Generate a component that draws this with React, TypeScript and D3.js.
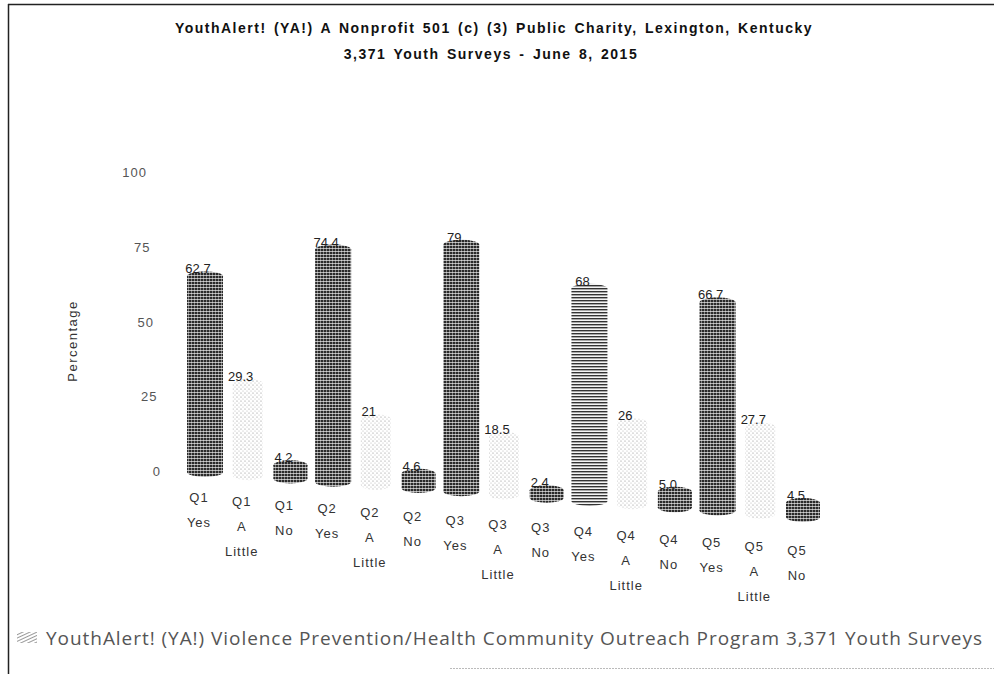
import React from "react";
import * as d3 from "d3";

// chart data
const questions = ["Q1", "Q2", "Q3", "Q4", "Q5"];
const answers = ["Yes", "A Little", "No"];
const values = [62.7, 29.3, 4.2, 74.4, 21, 4.6, 79, 18.5, 2.4, 68, 26, 5.0, 66.7, 27.7, 4.5];
const valueLabels = ["62.7", "29.3", "4.2", "74.4", "21", "4.6", "79", "18.5", "2.4", "68", "26", "5.0", "66.7", "27.7", "4.5"];
const yTicks = [0, 25, 50, 75, 100];

const title = "YouthAlert! (YA!) A Nonprofit 501 (c) (3) Public Charity, Lexington, Kentucky";
const subtitle = "3,371 Youth Surveys - June 8, 2015";
const legendLabel = "YouthAlert! (YA!) Violence Prevention/Health Community Outreach Program 3,371 Youth Surveys";

const W = 994;
const H = 674;

const bars = values.map((v, i) => ({
  q: questions[Math.floor(i / 3)],
  a: answers[i % 3],
  v,
  label: valueLabels[i],
  i,
}));

export default function App() {
  const font = "Arial, 'Liberation Sans', sans-serif";

  // x positions of the bars (a slightly tilted "3D" floor)
  const x = d3.scalePoint<number>().domain(d3.range(bars.length)).range([205, 803]);
  const base = d3.scaleLinear().domain([0, bars.length - 1]).range([472, 517]);
  const hScale = d3.scaleLinear().domain([0, 100]).range([0, 312]);
  const labelY = d3.scaleLinear().domain([0, bars.length - 1]).range([502, 555]);

  // y axis labels sit on the back wall
  const yAxis = d3.scaleLinear().domain([0, 100]).range([472, 173]);
  const yAxisX = d3.scaleLinear().domain([0, 100]).range([161, 147]);

  const widthFor = (a: string) => (a === "Yes" ? 36 : a === "A Little" ? 30 : 34);
  const fillFor = (d: { a: string; q: string }) => {
    if (d.a === "A Little") return "url(#dots)";
    if (d.a === "Yes" && d.q === "Q4") return "url(#stripes)";
    return "url(#hatch)";
  };
  const ry = 5;

  return (
    <svg width={W} height={H} style={{ position: "absolute", left: 0, top: 0, background: "#fff" }}>
      <defs>
        <pattern id="hatch" width={3} height={3} patternUnits="userSpaceOnUse">
          <rect width={3} height={3} fill="#2a2a2a" />
          <rect y={2} width={3} height={0.9} fill="#fff" opacity={0.7} />
          <rect x={2} width={0.9} height={3} fill="#fff" opacity={0.45} />
        </pattern>
        <pattern id="stripes" width={3} height={3} patternUnits="userSpaceOnUse">
          <rect width={3} height={3} fill="#f4f4f4" />
          <rect y={0} width={3} height={1.4} fill="#333" />
        </pattern>
        <pattern id="dots" width={4} height={4} patternUnits="userSpaceOnUse">
          <rect width={4} height={4} fill="#fff" />
          <circle cx={1} cy={1} r={0.6} fill="#888" />
          <circle cx={3} cy={3} r={0.5} fill="#aaa" />
        </pattern>
        <pattern id="legendSwatch" width={3} height={3} patternUnits="userSpaceOnUse" patternTransform="rotate(-25)">
          <rect width={3} height={3} fill="#fff" />
          <rect width={3} height={1} fill="#999" />
        </pattern>
      </defs>

      {/* frame */}
      <line x1={8} x2={W} y1={4.5} y2={4.5} stroke="#222" strokeWidth={1.5} />
      <line x1={8.5} x2={8.5} y1={4} y2={H} stroke="#222" strokeWidth={1.5} />
      <line x1={450} x2={W} y1={668.5} y2={668.5} stroke="#bbb" strokeWidth={1} strokeDasharray="2 1" />

      {/* titles */}
      <text x={494} y={33} textAnchor="middle" fontFamily={font} fontSize={14} fontWeight="bold" fill="#111"
        letterSpacing={1.5} wordSpacing={2}>
        {title}
      </text>
      <text x={491} y={59} textAnchor="middle" fontFamily={font} fontSize={14} fontWeight="bold" fill="#111"
        letterSpacing={1.5} wordSpacing={2}>
        {subtitle}
      </text>

      {/* y axis */}
      {yTicks.map((t) => (
        <text key={t} x={yAxisX(t)} y={yAxis(t) + 4} textAnchor="end" fontFamily={font} fontSize={13}
          letterSpacing={1} fill="#555">
          {t}
        </text>
      ))}
      <text
        transform={`translate(77,341) rotate(-90)`}
        textAnchor="middle"
        fontFamily={font}
        fontSize={13}
        letterSpacing={1.5}
        fill="#333"
      >
        Percentage
      </text>

      {/* bars as cylinders */}
      {bars.map((d) => {
        const cx = x(d.i) as number;
        const w = widthFor(d.a);
        const b = base(d.i);
        const top = b - hScale(d.v);
        const fill = fillFor(d);
        return (
          <g key={d.i}>
            <ellipse cx={cx} cy={b} rx={w / 2} ry={ry} fill={fill} />
            <rect x={cx - w / 2} y={top} width={w} height={b - top} fill={fill} />
            <ellipse cx={cx} cy={top} rx={w / 2} ry={ry} fill={fill} />
            <text x={cx - 7} y={top - 3} textAnchor="middle" fontFamily={font} fontSize={13} fill="#222">
              {d.label}
            </text>
          </g>
        );
      })}

      {/* category labels */}
      {bars.map((d) => {
        const lines = [d.q, ...d.a.split(" ")];
        return (
          <text key={d.i} textAnchor="middle" fontFamily={font} fontSize={13} letterSpacing={1} fill="#333">
            {lines.map((l, k) => (
              <tspan key={k} x={(x(d.i) as number) - 6} y={labelY(d.i) + k * 25}>
                {l}
              </tspan>
            ))}
          </text>
        );
      })}

      {/* legend */}
      <rect x={17} y={632} width={20} height={11} fill="url(#legendSwatch)" />
      <text x={46} y={645} fontFamily="'Open Sans', sans-serif" fontSize={19} letterSpacing={0.95} fill="#555">
        {legendLabel}
      </text>
    </svg>
  );
}
